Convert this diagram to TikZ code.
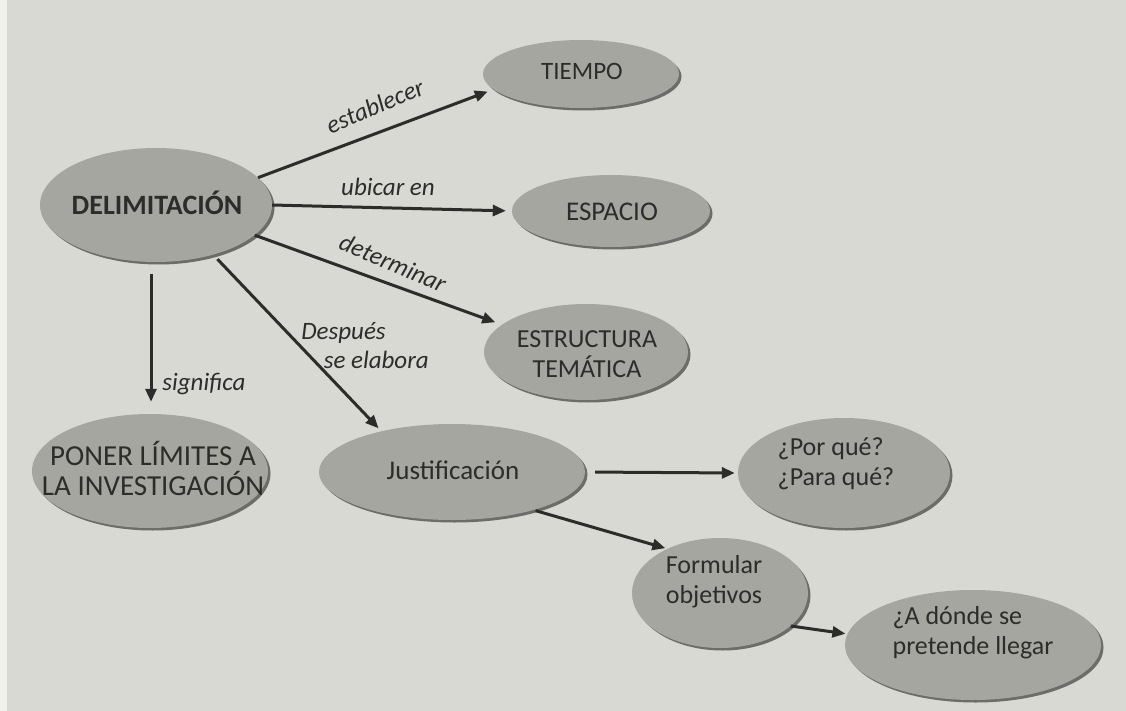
\documentclass[tikz,border=0pt]{standalone}
\usepackage{fontspec}
\setmainfont{Carlito}
\usetikzlibrary{shapes.geometric,shadows,arrows.meta,positioning,calc}
\definecolor{paper}{HTML}{D9D9D3}
\definecolor{bubblefill}{HTML}{A6A6A0}
\definecolor{bubblerim}{HTML}{6C6C68}
\definecolor{ink}{HTML}{2C2C2A}
\tikzset{
	bubble/.style={ellipse, fill=bubblefill, inner sep=0pt,
		drop shadow={shadow xshift=2.5pt, shadow yshift=-2.5pt, fill=bubblerim, opacity=1}},
	txt/.style={text=ink, font=\fontsize{26}{30}\selectfont, align=center, inner sep=0pt},
	lbl/.style={text=ink, font=\fontsize{25}{29}\selectfont\itshape, inner sep=0pt},
	link/.style={draw=ink, line width=3pt, -{Triangle[length=13pt,width=11pt]}},
}
\begin{document}
\begin{tikzpicture}[x=1pt, y=-1pt]
		\fill[paper] (0,0) rectangle (1126,711);
		\fill[white!60!paper] (0,0) rectangle (7,711);
		\useasboundingbox (0,0) rectangle (1126,711);

		\node[bubble, minimum width=232pt, minimum height=114pt] (delim) at (156,205) {};
		\node[txt, font=\fontsize{28}{30}\selectfont\bfseries] (delim-t) at (157,203) {DELIMITACIÓN};
		\node[bubble, minimum width=196pt, minimum height=68pt] (tiempo) at (581,74) {};
		\node[txt, font=\fontsize{25}{30}\selectfont] (tiempo-t) at (582,71) {TIEMPO};
		\node[bubble, minimum width=198pt, minimum height=72pt] (espacio) at (611,211) {};
		\node[txt, font=\fontsize{27}{30}\selectfont] (espacio-t) at (612,212) {ESPACIO};
		\node[bubble, minimum width=204pt, minimum height=96pt] (estructura) at (586,352) {};
		\node[txt] (estructura-t) at (587,354) {ESTRUCTURA\\TEMÁTICA};
		\node[bubble, minimum width=236pt, minimum height=114pt] (limites) at (150,471) {};
		\node[txt, font=\fontsize{29}{30}\selectfont] (limites-t) at (153,468) {PONER LÍMITES A\\LA INVESTIGACIÓN};
		\node[bubble, minimum width=266pt, minimum height=96pt] (justif) at (452,472) {};
		\node[txt, font=\fontsize{27}{30}\selectfont] (justif-t) at (453,470) {Justificación};
		\node[bubble, minimum width=212pt, minimum height=110pt] (porque) at (844,473) {};
		\node[txt, align=left] (porque-t) at (836,464) {¿Por qué?\\¿Para qué?};
		\node[bubble, minimum width=176pt, minimum height=110pt] (formular) at (720,593) {};
		\node[txt] (formular-t) at (714,582) {Formular\\objetivos};
		\node[bubble, minimum width=256pt, minimum height=110pt] (adonde) at (973,645) {};
		\node[txt, align=left] (adonde-t) at (973,633) {¿A dónde se\\pretende llegar};

		\draw[link, shorten >=6pt] (delim.15) -- (tiempo.190);
		\draw[link, shorten >=6pt] (delim.east) -- (espacio.west);
		\draw[link, shorten >=7pt] (delim.-17) -- (estructura.162);
		\draw[link, shorten <=6pt, shorten >=4pt] (delim.-41) -- (justif.150);
		\draw[link, shorten <=12pt, shorten >=12pt] (delim.265) -- (delim.265 |- limites.north);
		\draw[link, shorten <=10pt, shorten >=3pt] (justif.east) -- (porque.west);
		\draw[link, shorten <=2pt, shorten >=2pt] (justif.-25) -- (formular.140);
		\draw[link, shorten >=2pt] (formular.-25) -- (adonde.175);

		\node[lbl, rotate=23] (l-establecer) at (375,106) {establecer};
		\node[lbl] (l-ubicar) at (388,187) {ubicar en};
		\node[lbl, rotate=-23] (l-determinar) at (393,263) {determinar};
		\node[lbl, align=left] (l-despues) at (365,346) {Después\\\hspace*{0.9em}se elabora};
		\node[lbl] (l-significa) at (204,384) {significa};
	\end{tikzpicture}
\end{document}
